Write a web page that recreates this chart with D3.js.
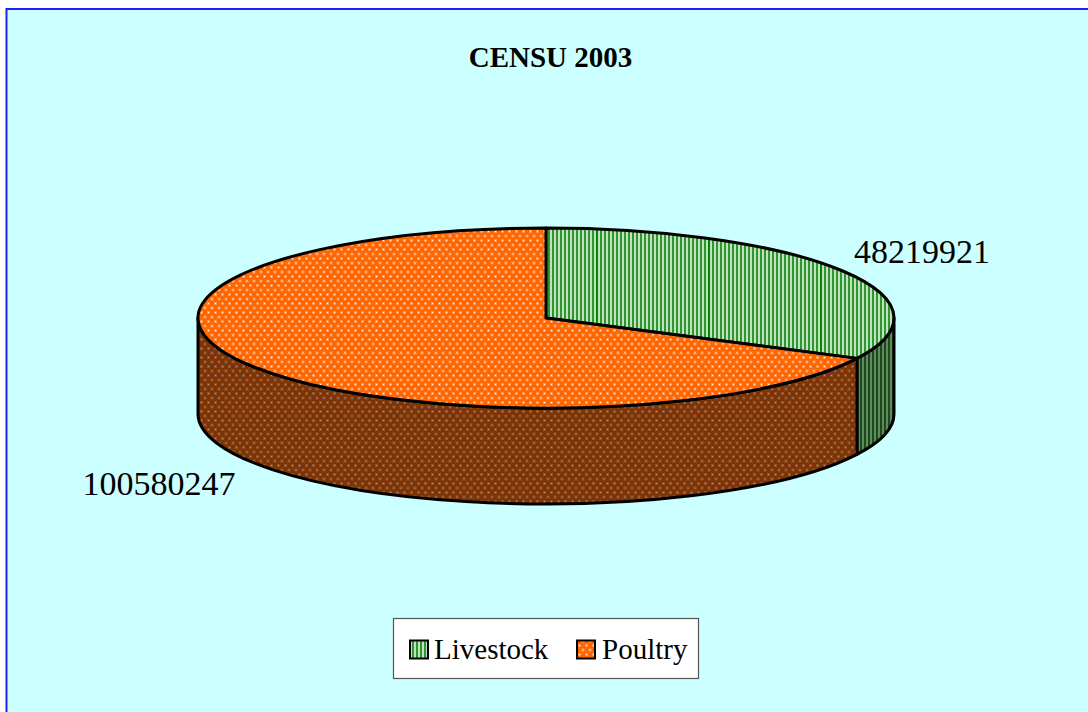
<!DOCTYPE html>
<html><head><meta charset="utf-8">
<script src="https://cdn.jsdelivr.net/npm/d3@7/dist/d3.min.js"></script>
<style>html,body{margin:0;padding:0;background:#fff;overflow:hidden}svg{display:block}text{font-family:"Liberation Serif",serif;fill:#000}</style>
</head><body><svg id="c" width="1088" height="712"></svg>
<script>
const titleText = "CENSU 2003";
const categories = ["Livestock", "Poultry"];
const values = [48219921, 100580247];
const labelPos = [{x:922,y:255,a:"middle"},{x:159,y:487,a:"middle"}];
const topFill = ["url(#pL)","url(#pP)"];
const sideFill = ["url(#pLd)","url(#pPd)"];

const svg = d3.select("#c");
const defs = svg.append("defs");
function stripes(id,bg,fg,fg2){
  const p = defs.append("pattern").attr("id",id).attr("patternUnits","userSpaceOnUse").attr("width",112).attr("height",4);
  p.append("rect").attr("width",112).attr("height",4).attr("fill",bg);
  d3.range(0,112,4).forEach(x=>{
    p.append("rect").attr("x",x).attr("width",2).attr("height",4).attr("fill",x===36?fg2:fg);
  });
}
function dots(id,bg,fg,halo){
  const p = defs.append("pattern").attr("id",id).attr("patternUnits","userSpaceOnUse").attr("width",7).attr("height",9);
  p.append("rect").attr("width",7).attr("height",9).attr("fill",bg);
  [[2,2],[5.5,6.5]].forEach(([x,y])=>{
    p.append("rect").attr("x",x-1.5).attr("y",y-1.5).attr("width",3).attr("height",3).attr("fill",halo);
    p.append("rect").attr("x",x-.5).attr("y",y-.5).attr("width",1).attr("height",1).attr("fill",fg);
  });
}
stripes("pL","#bfe2bf","#2f962f","#008800");
stripes("pLd","#5f8c5f","#1c4a1c","#0e450e");
dots("pP","#ff6600","#ffffff","#ff9350");
dots("pPd","#7f3300","#a09a96","#8a5030");

svg.append("rect").attr("x",6.5).attr("y",9).attr("width",1100).attr("height",730)
  .attr("fill","#ccffff").attr("stroke","#2222ee").attr("stroke-width",2);

svg.append("text").attr("x",550.5).attr("y",67).attr("text-anchor","middle")
  .attr("font-size",29).attr("font-weight","bold").text(titleText);

const cx=546, cy=318, rx=348, ry=90, depth=96;
const X=d3.scaleLinear().domain([0,1]).range([cx,cx+rx]);
const Y=d3.scaleLinear().domain([0,1]).range([cy,cy+ry]);
const pt=(t,dz=0)=>[X(Math.sin(t)),Y(-Math.cos(t))+dz];
const arcs=d3.pie().sort(null)(values);
const arcTo=(t,dz,sweep,large)=>{const p=pt(t,dz);return `A${rx},${ry} 0 ${large?1:0} ${sweep} ${p[0]},${p[1]}`;};
const g=svg.append("g").attr("stroke","#000").attr("stroke-width",3).attr("stroke-linejoin","round");

// visible side walls: the lower half of the ellipse, angle PI/2 .. 3PI/2
arcs.forEach((a,i)=>{
  const s=Math.max(a.startAngle,Math.PI/2), e=Math.min(a.endAngle,3*Math.PI/2);
  if(e<=s) return;
  const p0=pt(s), p1=pt(s,depth);
  g.append("path").attr("fill",sideFill[i]).attr("d",
    `M${p0}L${p1}${arcTo(e,depth,1,e-s>Math.PI)}L${pt(e)}${arcTo(s,0,0,e-s>Math.PI)}Z`);
});
// top faces
arcs.forEach((a,i)=>{
  const s=a.startAngle,e=a.endAngle,p=pt(s);
  g.append("path").attr("fill",topFill[i]).attr("d",
    `M${cx},${cy}L${p}${arcTo(e,0,1,e-s>Math.PI)}Z`);
});
// value labels
values.forEach((v,i)=>{
  svg.append("text").attr("x",labelPos[i].x).attr("y",labelPos[i].y).attr("text-anchor",labelPos[i].a)
    .attr("font-size",34).attr("dominant-baseline","middle").text(v);
});
// legend
const lg=svg.append("g");
lg.append("rect").attr("x",393.5).attr("y",618.5).attr("width",305).attr("height",60)
  .attr("fill","#fff").attr("stroke","#555").attr("stroke-width",1.2);
const legX=[410,577], legT=[434,602];
categories.forEach((c,i)=>{
  lg.append("rect").attr("x",legX[i]).attr("y",640.5).attr("width",18).attr("height",18)
    .attr("fill",topFill[i]).attr("stroke","#000").attr("stroke-width",2);
  lg.append("text").attr("x",legT[i]).attr("y",659).attr("font-size",29).text(c);
});
</script></body></html>
